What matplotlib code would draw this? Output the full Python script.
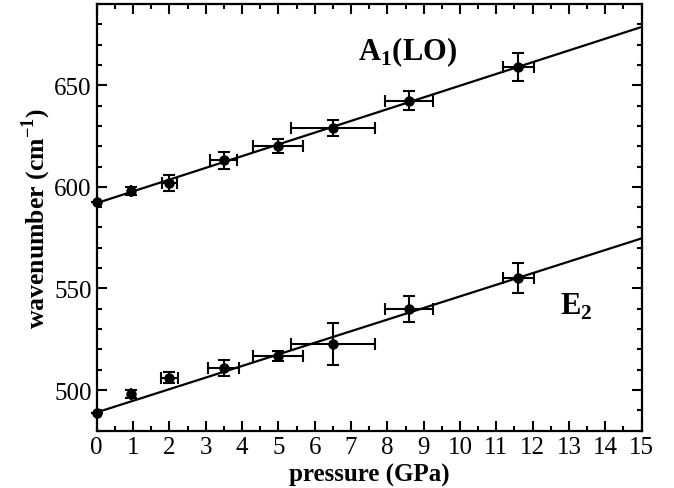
import numpy as np
import matplotlib
matplotlib.use("Agg")
import matplotlib.pyplot as plt
from matplotlib.ticker import MultipleLocator

# A1(LO) mode
p_a1 = [0.0, 0.95, 2.0, 3.5, 5.0, 6.5, 8.6, 11.6]
w_a1 = [592.5, 598.0, 602.0, 613.0, 620.3, 629.0, 642.5, 659.0]
werr_a1 = [0.0, 2.0, 4.0, 4.0, 3.5, 4.0, 4.5, 7.0]
perr_a1 = [0.0, 0.0, 0.2, 0.37, 0.69, 1.15, 0.67, 0.43]
fit_a1 = [5.78, 592.0]  # slope, intercept

# E2 mode
p_e2 = [0.0, 0.95, 2.0, 3.5, 5.0, 6.5, 8.6, 11.6]
w_e2 = [488.8, 498.0, 506.0, 510.7, 516.8, 522.7, 540.0, 555.0]
werr_e2 = [0.0, 2.0, 2.7, 4.0, 2.3, 10.3, 6.5, 7.4]
perr_e2 = [0.0, 0.0, 0.24, 0.43, 0.69, 1.15, 0.67, 0.43]
fit_e2 = [5.71, 489.0]

plt.rcParams["font.family"] = ["Liberation Serif", "DejaVu Serif"]
plt.rcParams["mathtext.fontset"] = "custom"
plt.rcParams["mathtext.rm"] = "Liberation Serif"
plt.rcParams["mathtext.bf"] = "Liberation Serif:bold"

fig = plt.figure(figsize=(6.74, 4.89), dpi=100)
ax = fig.add_axes([0.1435, 0.1172, 0.8085, 0.8726])

xs = np.array([0.0, 15.0])
for fit in (fit_a1, fit_e2):
    ax.plot(xs, np.polyval(fit, xs), color="black", lw=1.6, zorder=2)

for p, w, pe, we in ((p_a1, w_a1, perr_a1, werr_a1), (p_e2, w_e2, perr_e2, werr_e2)):
    ax.errorbar(p, w, xerr=pe, yerr=we, fmt="o", color="black", ms=6.5,
                elinewidth=1.5, capsize=4.5, capthick=1.5, clip_on=False, zorder=3)

ax.text(7.19, 663, r"A$_\mathbf{1}$(LO)", fontsize=22, fontweight="bold")
ax.text(12.75, 537.7, r"E$_\mathbf{2}$", fontsize=22, fontweight="bold")

ax.set_xlim(0, 15)
ax.set_ylim(480, 690)
ax.xaxis.set_major_locator(MultipleLocator(1))
ax.xaxis.set_minor_locator(MultipleLocator(0.5))
ax.yaxis.set_major_locator(MultipleLocator(50))
ax.yaxis.set_minor_locator(MultipleLocator(10))
ax.tick_params(which="both", direction="in", top=True, right=True, width=1.5,
               labelsize=18)
ax.tick_params(which="major", length=7)
ax.tick_params(which="minor", length=3.5)
for s in ax.spines.values():
    s.set_linewidth(1.6)

ax.set_xlabel("pressure (GPa)", fontsize=18, fontweight="bold", labelpad=4)
ax.set_ylabel(r"wavenumber (cm$^\mathbf{-1}$)", fontsize=18.5, fontweight="bold", labelpad=1)

fig.savefig("out.png", dpi=100)
